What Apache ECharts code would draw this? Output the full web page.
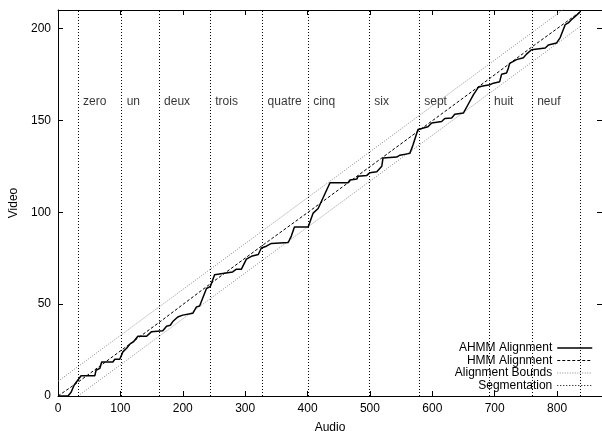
<!DOCTYPE html>
<html>
<head>
<meta charset="utf-8">
<script src="https://cdn.jsdelivr.net/npm/echarts@6/dist/echarts.min.js"></script>
<style>
  html, body { margin: 0; padding: 0; background: #fff; }
  #chart { width: 602px; height: 431px; }
</style>
</head>
<body>
<div id="chart"></div>
<script>
(function () {
  var font = '"Liberation Sans", Arial, Helvetica, sans-serif';

  // AHMM alignment path (audio frame, video frame)
  var ahmm = [
    [0, 0], [16, 0], [21, 2], [26, 6], [37, 11], [59, 11], [61, 14], [67, 15],
    [70, 18.5], [88, 18.5], [91, 20], [99, 20], [104, 24], [110, 26], [116, 28.5],
    [121, 29.5], [128, 32.5], [142, 32.5], [145, 33], [150, 35], [168, 35.5],
    [174, 38], [180, 38.5], [184, 40.5], [192, 43], [200, 44], [216, 45],
    [222, 48.5], [227, 49], [238, 58.5], [244, 59.5], [251, 66], [254, 67],
    [280, 67.5], [286, 69], [294, 69], [302, 74.5], [310, 76], [321, 77],
    [326, 80.5], [334, 81.5], [342, 83], [369, 83.5], [374, 87], [379, 92],
    [401, 92], [409, 99.5], [417, 102], [436, 116], [465, 116], [468, 117.5],
    [479, 118], [481, 119.5], [495, 120], [500, 121.5], [511, 122], [519, 125],
    [521, 129.5], [543, 130], [548, 131], [564, 132], [569, 136.5], [577, 145],
    [583, 145.5], [593, 146.5], [599, 148.5], [615, 149.3], [620, 151],
    [631, 151.3], [636, 153.3], [650, 154], [658, 159], [666, 164], [674, 168],
    [679, 168.5], [692, 169.3], [698, 170.2], [708, 171], [711, 175], [719, 175.7],
    [722, 178.5], [724, 181], [735, 183], [746, 184], [751, 186], [759, 188.4],
    [781, 189.3], [786, 191], [799, 192], [805, 195], [813, 202], [818, 203],
    [823, 204.7], [829, 206.5], [837, 209]
  ];

  // HMM alignment (nearly straight)
  var hmm = [
    [0, 0], [32, 7.5], [102, 25], [162, 40], [244, 61], [328, 82], [401, 100],
    [499, 124.5], [579, 144.5], [691, 172.5], [760, 190], [837, 209]
  ];

  var boundUpper = [[0, 8], [837, 217]];
  var boundLower = [[32, 0], [837, 201]];

  // segmentation boundaries and digit words
  var segBounds = [32, 102, 162, 244, 328, 401, 499, 579, 691, 760, 837];
  var digitNames = ['zero', 'un', 'deux', 'trois', 'quatre', 'cinq', 'six', 'sept', 'huit', 'neuf'];
  var labelY = 160;

  var xTicks = { min: 0, max: 872, interval: 100 };
  var yTicks = { min: 0, max: 210, interval: 50 };

  var chart = echarts.init(document.getElementById('chart'), null, { renderer: 'canvas' });

  function axisBase(showLabel) {
    return {
      axisLine: { show: true, onZero: false, lineStyle: { color: '#000', width: 1 } },
      axisTick: { show: true, inside: true, length: 5, lineStyle: { color: '#000' } },
      axisLabel: {
        show: showLabel, color: '#000', fontSize: 12, fontFamily: font,
        margin: 7, showMaxLabel: false
      },
      splitLine: { show: false }
    };
  }

  var xBottom = axisBase(true);
  xBottom.type = 'value';
  xBottom.position = 'bottom';
  xBottom.min = xTicks.min; xBottom.max = xTicks.max; xBottom.interval = xTicks.interval;
  xBottom.name = 'Audio';
  xBottom.nameLocation = 'middle';
  xBottom.nameGap = 26;
  xBottom.nameTextStyle = { color: '#000', fontSize: 12, fontFamily: font };

  var xTop = axisBase(false);
  xTop.type = 'value';
  xTop.position = 'top';
  xTop.min = xTicks.min; xTop.max = xTicks.max; xTop.interval = xTicks.interval;

  var yLeft = axisBase(true);
  yLeft.type = 'value';
  yLeft.position = 'left';
  yLeft.min = yTicks.min; yLeft.max = yTicks.max; yLeft.interval = yTicks.interval;
  yLeft.name = 'Video';
  yLeft.nameLocation = 'middle';
  yLeft.nameGap = 32;
  yLeft.nameRotate = 90;
  yLeft.nameTextStyle = { color: '#000', fontSize: 12, fontFamily: font };

  var yRight = axisBase(false);
  yRight.type = 'value';
  yRight.position = 'right';
  yRight.min = yTicks.min; yRight.max = yTicks.max; yRight.interval = yTicks.interval;

  chart.setOption({
    animation: false,
    backgroundColor: '#fff',
    textStyle: { fontFamily: font },
    grid: {
      left: 58, right: 0, top: 10, bottom: 35,
      containLabel: false,
      outerBoundsMode: 'none'
    },
    legend: {
      orient: 'vertical',
      align: 'right',
      right: 9,
      top: 342,
      itemWidth: 35,
      itemHeight: 10,
      itemGap: 0.5,
      padding: 0,
      itemStyle: { opacity: 0 },
      lineStyle: { width: 'inherit' },
      textStyle: { color: '#000', fontSize: 12, lineHeight: 12, fontFamily: font },
      data: ['AHMM Alignment', 'HMM Alignment', 'Alignment Bounds', 'Segmentation']
    },
    xAxis: [xBottom, xTop],
    yAxis: [yLeft, yRight],
    series: [
      {
        name: 'AHMM Alignment',
        type: 'line',
        data: ahmm,
        symbol: 'none',
        lineStyle: { color: '#000', width: 1.5 },
        itemStyle: { color: '#000' },
        z: 5
      },
      {
        name: 'HMM Alignment',
        type: 'line',
        data: hmm,
        symbol: 'none',
        lineStyle: { color: '#000', width: 1, type: [3, 2] },
        itemStyle: { color: '#000' },
        z: 4
      },
      {
        name: 'Alignment Bounds',
        type: 'line',
        data: boundUpper,
        symbol: 'none',
        clip: true,
        lineStyle: { color: '#888', width: 1, type: [1, 1.5] },
        itemStyle: { color: '#888' },
        z: 3
      },
      {
        name: 'Alignment Bounds',
        type: 'line',
        data: boundLower,
        symbol: 'none',
        clip: true,
        lineStyle: { color: '#888', width: 1, type: [1, 1.5] },
        itemStyle: { color: '#888' },
        z: 3
      },
      {
        name: 'Segmentation',
        type: 'line',
        data: [],
        symbol: 'none',
        lineStyle: { color: '#000', width: 1, type: [1, 2] },
        itemStyle: { color: '#000' },
        markLine: {
          silent: true,
          symbol: 'none',
          label: { show: false },
          lineStyle: { color: '#000', width: 1, type: [1, 2] },
          data: segBounds.map(function (x) { return { xAxis: x }; })
        },
        z: 2
      },
      {
        name: 'labels',
        type: 'scatter',
        symbolSize: 0,
        silent: true,
        data: digitNames.map(function (n, i) {
          return { name: n, value: [segBounds[i], labelY] };
        }),
        label: {
          show: true,
          position: 'right',
          distance: 5,
          formatter: '{b}',
          color: '#000',
          fontSize: 12,
          fontFamily: font
        }
      }
    ]
  });
})();
</script>
</body>
</html>
